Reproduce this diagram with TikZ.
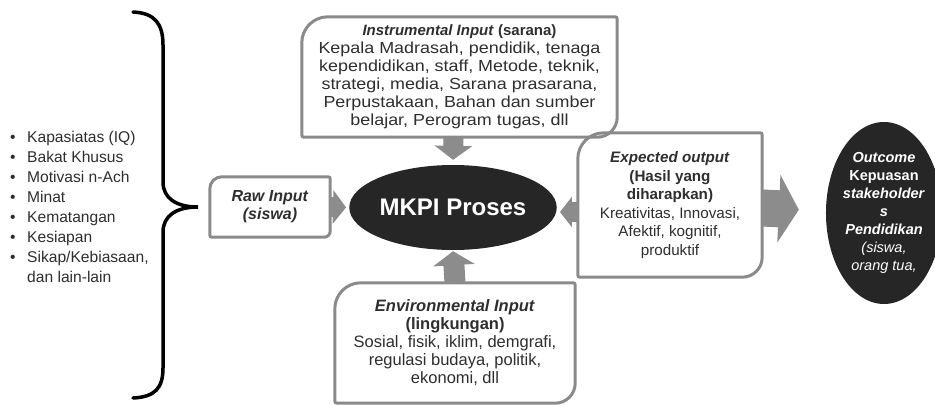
\documentclass[tikz,border=0pt]{standalone}
\usepackage{fontspec}
\setmainfont{Liberation Sans}
\newfontfamily\widef{Liberation Sans}[FakeStretch=1.12]
\usetikzlibrary{arrows.meta,shapes.geometric,calc}
\definecolor{txt}{HTML}{2E2E2E}
\definecolor{bord}{HTML}{8A8A8A}
\definecolor{arrg}{HTML}{8C8C8C}
\definecolor{darkfill}{HTML}{262626}
\newcommand\boxoutline[3]{%
  \draw[outl] (#1.west) [rounded corners=#2] |- (#1.north) [rounded corners=2pt] -| (#1.east)
    [rounded corners=#3] |- (#1.south) [rounded corners=2pt] -| (#1.west);}
\newcommand\fs[2]{\fontsize{#1}{#2}\selectfont}
\newcommand\bul{\makebox[19pt][l]{\hspace*{2pt}•}}
\begin{document}
\begin{tikzpicture}[x=1pt,y=-1pt,
  boxn/.style={draw=none, inner sep=0pt, align=center, text=txt},
  outl/.style={draw=bord, line width=3pt},
  blockarrow/.style={draw=arrg, line width=#1}]
\useasboundingbox (0,0) rectangle (935,405);

% brace
\draw[line width=3.5pt, black, line cap=round]
  (133,12) .. controls (155,13) and (163,24) .. (163,45) -- (163,182)
  .. controls (163,198) and (176,207) .. (198,207)
  .. controls (176,207) and (163,216) .. (163,232) -- (163,368)
  .. controls (163,388) and (155,397) .. (133,398);

% bullet list
\node[anchor=west, inner sep=0pt, align=left, text=txt, font=\fs{15.6}{20}] (list) at (8,207)
  {\bul Kapasiatas (IQ)\\\bul Bakat Khusus\\\bul Motivasi n-Ach\\\bul Minat\\\bul Kematangan\\\bul Kesiapan\\\bul Sikap/Kebiasaan,\\\hspace*{19pt}dan lain-lain};

% instrumental input
\node[boxn, minimum width=315pt, minimum height=120pt, font=\widef\fs{16}{18}] (instr) at (459.5,77)
  {{\rmfamily\fs{15}{18}\textbf{\textit{Instrumental Input}} \textbf{(sarana)}}\\
   Kepala Madrasah, pendidik, tenaga\\
   kependidikan, staff, Metode, teknik,\\
   strategi, media, Sarana prasarana,\\
   Perpustakaan, Bahan dan sumber\\
   belajar, Perogram tugas, dll};
\boxoutline{instr}{26pt}{20pt}

% raw input
\node[boxn, minimum width=120pt, minimum height=60pt, font=\fs{16}{18}] (raw) at (270,207)
  {\textbf{\textit{Raw Input}}\\\textbf{\textit{(siswa)}}};
\boxoutline{raw}{12pt}{6pt}

% expected output
\node[boxn, minimum width=184pt, minimum height=144pt, font=\fs{15.2}{18.6}] (exp) at (670,205)
  {\textbf{\textit{Expected output}}\\\textbf{(Hasil yang}\\\textbf{diharapkan)}\\
   Kreativitas, Innovasi,\\Afektif, kognitif,\\produktif};
\boxoutline{exp}{26pt}{20pt}

% environmental input
\node[boxn, minimum width=240pt, minimum height=120pt, font=\fs{16.5}{18}] (env) at (455,343)
  {\textbf{\textit{Environmental Input}}\\\textbf{(lingkungan)}\\
   Sosial, fisik, iklim, demgrafi,\\regulasi budaya, politik,\\ekonomi, dll};
\boxoutline{env}{26pt}{20pt}

% MKPI ellipse
\node[ellipse, fill=darkfill, text=white, minimum width=190pt, minimum height=85pt, inner sep=0pt, font=\fs{24}{28}\bfseries]
  (mk) at (453,207.5) {MKPI Proses};

% outcome ellipse
\node[ellipse, fill=darkfill, text=white, minimum width=100pt, minimum height=182pt, inner sep=0pt, align=center, font=\fs{14.5}{18}]
  (out) at (884,213)
  {\textbf{\textit{Outcome}}\\\textbf{Kepuasan}\\\textbf{\textit{stakeholder}}\\\textbf{\textit{s}}\\
   \textbf{\textit{Pendidikan}}\\\textit{(siswa,}\\\textit{orang tua,}};

% block arrows
\draw[blockarrow=20pt, -{Triangle[width=37pt,length=14pt]}, shorten >=5pt]
  ($(instr.south)+(-6,0)$) -- ($(mk.north)+(0,0)$);
\draw[blockarrow=21pt, -{Triangle[width=41pt,length=14pt]}, shorten >=1pt]
  (env.north) -- (mk.south);
\draw[blockarrow=20pt, -{Triangle[width=33pt,length=13pt]}, shorten >=3pt]
  (raw.east) -- (mk.west);
\draw[blockarrow=20pt, -{Triangle[width=30pt,length=12pt]}, shorten >=3pt]
  ($(exp.west)+(0,7)$) -- ($(mk.east)+(0,4.5)$);
\draw[blockarrow=37pt, -{Triangle[width=67pt,length=20pt]}, shorten >=27pt]
  ($(exp.east)+(0,3)$) -- ($(out.west)+(0,-2)$);
\end{tikzpicture}
\end{document}
